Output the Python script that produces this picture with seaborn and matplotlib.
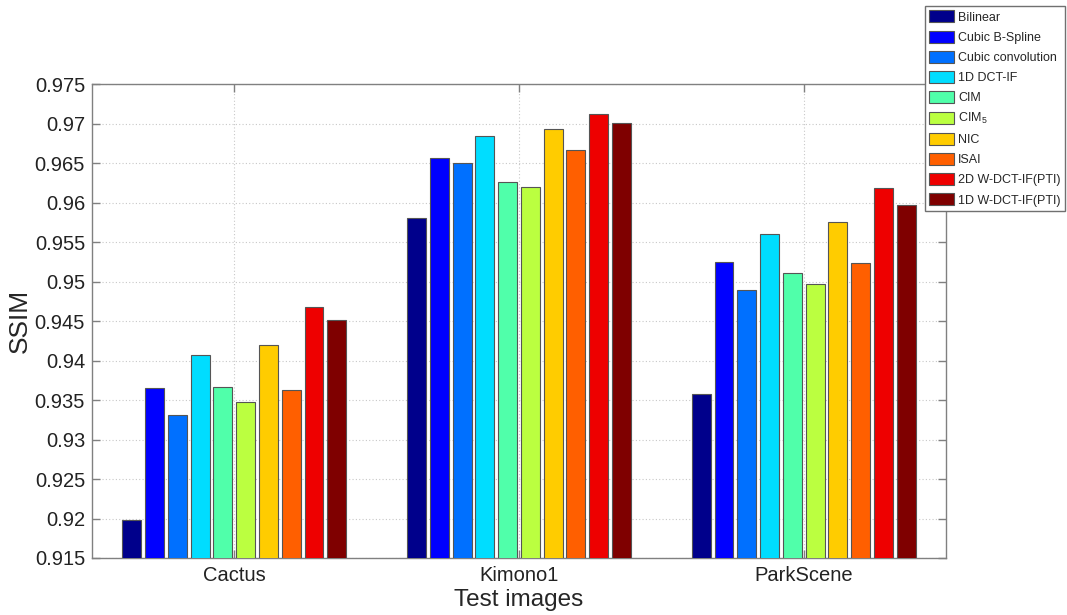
import numpy as np
import pandas as pd
import matplotlib
matplotlib.use("Agg")
import matplotlib.pyplot as plt
from matplotlib.ticker import FuncFormatter
import seaborn as sns

# data
images = ["Cactus", "Kimono1", "ParkScene"]
methods = ["Bilinear", "Cubic B-Spline", "Cubic convolution", "1D DCT-IF", "CIM",
           "CIM$_5$", "NIC", "ISAI", "2D W-DCT-IF(PTI)", "1D W-DCT-IF(PTI)"]
cactus = [0.9198, 0.9365, 0.9331, 0.9407, 0.9366, 0.9348, 0.9420, 0.9363, 0.9468, 0.9451]
kimono = [0.9581, 0.9657, 0.9650, 0.9685, 0.9626, 0.9620, 0.9693, 0.9667, 0.9712, 0.9701]
parkscene = [0.9358, 0.9525, 0.9489, 0.9560, 0.9511, 0.9497, 0.9576, 0.9523, 0.9619, 0.9597]
colors = ["#00008B", "#0000FF", "#0070FF", "#00DDFF", "#50FFAA",
          "#BBFF40", "#FFCC00", "#FF5F00", "#EE0000", "#7F0000"]

df = pd.DataFrame({
    "image": np.repeat(images, len(methods)),
    "method": methods * len(images),
    "ssim": cactus + kimono + parkscene,
})

sns.set_style("white")
plt.rcParams["font.family"] = ["Liberation Sans", "DejaVu Sans"]
plt.rcParams["mathtext.default"] = "regular"

fig = plt.figure(figsize=(10.67, 6.15), dpi=100)
ax = fig.add_axes([0.0862, 0.0927, 0.8004, 0.7703])

sns.barplot(data=df, x="image", y="ssim", hue="method", palette=colors,
            width=0.8, gap=0.17, edgecolor="#555555", linewidth=0.8,
            saturation=1, errorbar=None, ax=ax, zorder=3)

ax.set_xlim(-0.5, 2.5)
ax.set_ylim(0.915, 0.975)
ax.set_yticks(np.linspace(0.915, 0.975, 13))
ax.yaxis.set_major_formatter(FuncFormatter(lambda v, p: "{:g}".format(round(v, 3))))

ax.grid(True, linestyle=(0, (1, 2)), color="#c8c8c8", linewidth=0.8, zorder=0)
ax.set_axisbelow(True)
for s in ax.spines.values():
    s.set_color("#808080")
    s.set_linewidth(1.0)
ax.tick_params(direction="in", length=6, width=1, color="#808080",
               labelsize=14.5, labelcolor="#222222", right=True, top=True,
               left=True, bottom=True, pad=5)
ax.tick_params(axis="x", pad=6)

ax.set_xlabel("Test images", fontsize=17.5, labelpad=3)
ax.set_ylabel("SSIM", fontsize=19)
ax.yaxis.set_label_coords(-0.070, 0.5)

handles, labels = ax.get_legend_handles_labels()
ax.legend(handles, labels, loc="upper right", bbox_to_anchor=(1065 / 1067, 1 - 6 / 615),
          bbox_transform=fig.transFigure, fontsize=9, frameon=True, fancybox=False,
          edgecolor="#707070", framealpha=1, borderpad=0.35, labelspacing=0.55,
          handlelength=2.0, handleheight=1.1, handletextpad=0.3, borderaxespad=0)

fig.savefig("out.png", dpi=100)
